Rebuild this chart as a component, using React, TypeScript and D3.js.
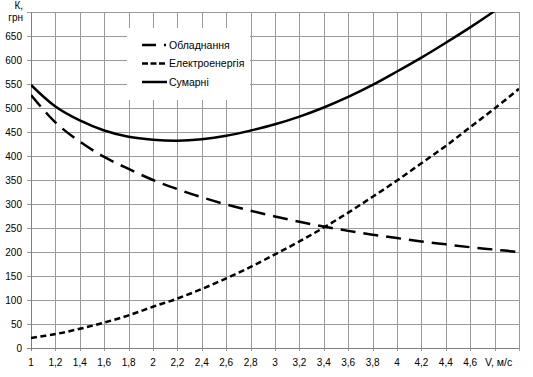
import React from 'react';
import * as d3 from 'd3';

const speeds = [1, 1.2, 1.4, 1.6, 1.8, 2, 2.2, 2.4, 2.6, 2.8, 3, 3.2, 3.4, 3.6, 3.8, 4, 4.2, 4.4, 4.6, 4.8, 5];
const equipment = [527, 470, 430, 398, 373, 350, 331, 314, 299, 286, 274, 263, 253, 244, 236, 229, 222, 216, 210, 205, 200];
const electricity = [21, 29, 40, 53, 68, 86, 103, 123, 145, 169, 195, 222, 251, 282, 315, 349, 385, 421, 460, 499, 540];
const total = [548, 503, 474, 453, 440, 434, 432, 435, 442, 453, 466, 482, 501, 523, 548, 576, 605, 636, 668, 702, 738];
const xTickValues = [1, 1.2, 1.4, 1.6, 1.8, 2, 2.2, 2.4, 2.6, 2.8, 3, 3.2, 3.4, 3.6, 3.8, 4, 4.2, 4.4, 4.6];
const xGridValues = speeds;
const yTickValues = [0, 50, 100, 150, 200, 250, 300, 350, 400, 450, 500, 550, 600, 650];
const yGridValues = [0, 50, 100, 150, 200, 250, 300, 350, 400, 450, 500, 550, 600, 650, 700];
const legendNames = ['Обладнання', 'Електроенергія', 'Сумарні'];
const xAxisTitle = 'V, м/с';
const yAxisTitle = ['К,', 'грн'];

const W = 533;
const H = 377;
const left = 31;
const right = 519;
const top = 12;
const bottom = 348;
const font = '"Liberation Sans", Arial, sans-serif';

export default function App() {
  const x = d3.scaleLinear().domain([1, 5]).range([left, right]);
  const y = d3.scaleLinear().domain([0, 700]).range([bottom, top]);
  const line = (vals: number[]) =>
    d3.line<number>()
      .x((_, i) => x(speeds[i]))
      .y((d) => y(d))
      .curve(d3.curveCatmullRom.alpha(0.5))(vals) as string;

  const series = [
    { vals: equipment, dash: '15 8' },
    { vals: electricity, dash: '6 3.5' },
    { vals: total, dash: undefined as string | undefined },
  ];

  const fmt = (v: number) => String(v).replace('.', ',');
  const crisp = (v: number) => Math.round(v) + 0.5;

  return (
    <svg width={W} height={H} style={{ position: 'absolute', left: 0, top: 0, background: '#fff' }} fontFamily={font}>
      <defs>
        <clipPath id="plotclip">
          <rect x={left} y={top} width={right - left} height={bottom - top} />
        </clipPath>
      </defs>
      <rect x={0} y={0} width={W} height={H} fill="#fff" />
      {xGridValues.map((v, i) => (
        <line key={'xg' + i} x1={crisp(x(v))} x2={crisp(x(v))} y1={top} y2={bottom + 3} stroke="#9a9a9a" strokeWidth={1} />
      ))}
      {yGridValues.map((v, i) => (
        <line key={'yg' + i} x1={left - 4} x2={right} y1={crisp(y(v))} y2={crisp(y(v))} stroke="#9a9a9a" strokeWidth={1} />
      ))}
      <line x1={crisp(left)} x2={crisp(left)} y1={top} y2={bottom + 3} stroke="#808080" strokeWidth={1} />
      <line x1={left - 4} x2={right} y1={crisp(bottom)} y2={crisp(bottom)} stroke="#808080" strokeWidth={1} />
      <g clipPath="url(#plotclip)">
        {series.map((s, i) => (
          <path key={'s' + i} d={line(s.vals)} fill="none" stroke="#000" strokeWidth={2.5} strokeDasharray={s.dash} />
        ))}
      </g>
      <rect x={127} y={28} width={123} height={72} fill="#fff" />
      {series.map((s, i) => {
        const ly = 45 + i * 18.5;
        return (
          <g key={'lg' + i}>
            <line x1={142} x2={i === 2 ? 167 : 166} y1={ly} y2={ly} stroke="#000" strokeWidth={2.5} strokeDasharray={s.dash ? (i === 0 ? '14 8' : '6 2.5') : undefined} />
            <text x={169} y={ly + 3.8} fontSize={10.5} fill="#000">{legendNames[i]}</text>
          </g>
        );
      })}
      {yTickValues.map((v, i) => (
        <text key={'yt' + i} x={22} y={y(v) + 3.6} fontSize={10} textAnchor="end" fill="#000">{v}</text>
      ))}
      {xTickValues.map((v, i) => (
        <text key={'xt' + i} x={x(v)} y={366} fontSize={10} textAnchor="middle" fill="#000">{fmt(v)}</text>
      ))}
      <text x={485} y={366} fontSize={10.5} fill="#000">{xAxisTitle}</text>
      <text x={23} y={9} fontSize={10} textAnchor="end" fill="#000">{yAxisTitle[0]}</text>
      <text x={23} y={21} fontSize={10} textAnchor="end" fill="#000">{yAxisTitle[1]}</text>
    </svg>
  );
}
